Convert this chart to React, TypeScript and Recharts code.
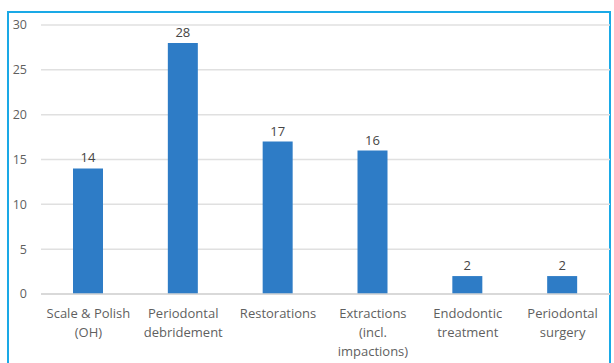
import React from 'react'
import { BarChart, Bar, XAxis, YAxis, CartesianGrid, LabelList } from 'recharts'

const categories = [
  'Scale & Polish\n(OH)',
  'Periodontal\ndebridement',
  'Restorations',
  'Extractions\n(incl.\nimpactions)',
  'Endodontic\ntreatment',
  'Periodontal\nsurgery',
]
const counts = [14, 28, 17, 16, 2, 2]
const yTicks = [0, 5, 10, 15, 20, 25, 30]

const data = categories.map((name, i) => ({ name, count: counts[i] }))

const FONT = '"Open Sans", sans-serif'

function CategoryTick({ x, y, payload }: any) {
  const lines = String(payload.value).split('\n')
  return (
    <text x={x} y={y} textAnchor="middle" fill="#5f5f5f" fontSize={13} fontFamily={FONT}>
      {lines.map((line, i) => (
        <tspan key={i} x={x} dy={i === 0 ? 16 : 19}>{line}</tspan>
      ))}
    </text>
  )
}

export default function App() {
  return (
    <div style={{ position: 'absolute', left: 0, top: 0, width: 614, height: 363, background: '#fff', overflow: 'hidden' }}>
      <div style={{
        position: 'absolute', left: 7, top: 11, width: 604, height: 360,
        border: '2px solid #1aa9e6', boxSizing: 'border-box',
      }} />
      <BarChart
        width={614}
        height={363}
        data={data}
        margin={{ top: 25, right: 4, left: 0, bottom: 0 }}
        style={{ position: 'absolute', left: 0, top: 0 }}
      >
        <CartesianGrid vertical={false} stroke="#e0e0e0" strokeWidth={1.5} />
        <XAxis
          dataKey="name"
          height={69}
          interval={0}
          axisLine={{ stroke: '#d4d4d4', strokeWidth: 1.5 }}
          tickLine={false}
          tick={<CategoryTick />}
        />
        <YAxis
          width={41}
          domain={[0, 30]}
          ticks={yTicks}
          axisLine={false}
          tickLine={false}
          tickMargin={8}
          tick={{ fill: '#5f5f5f', fontSize: 12.5, fontFamily: FONT }}
        />
        <Bar dataKey="count" fill="#2e7cc6" barSize={30} isAnimationActive={false}>
          <LabelList dataKey="count" position="top" offset={6} fill="#454545" fontSize={13} fontFamily={FONT} />
        </Bar>
      </BarChart>
    </div>
  )
}
